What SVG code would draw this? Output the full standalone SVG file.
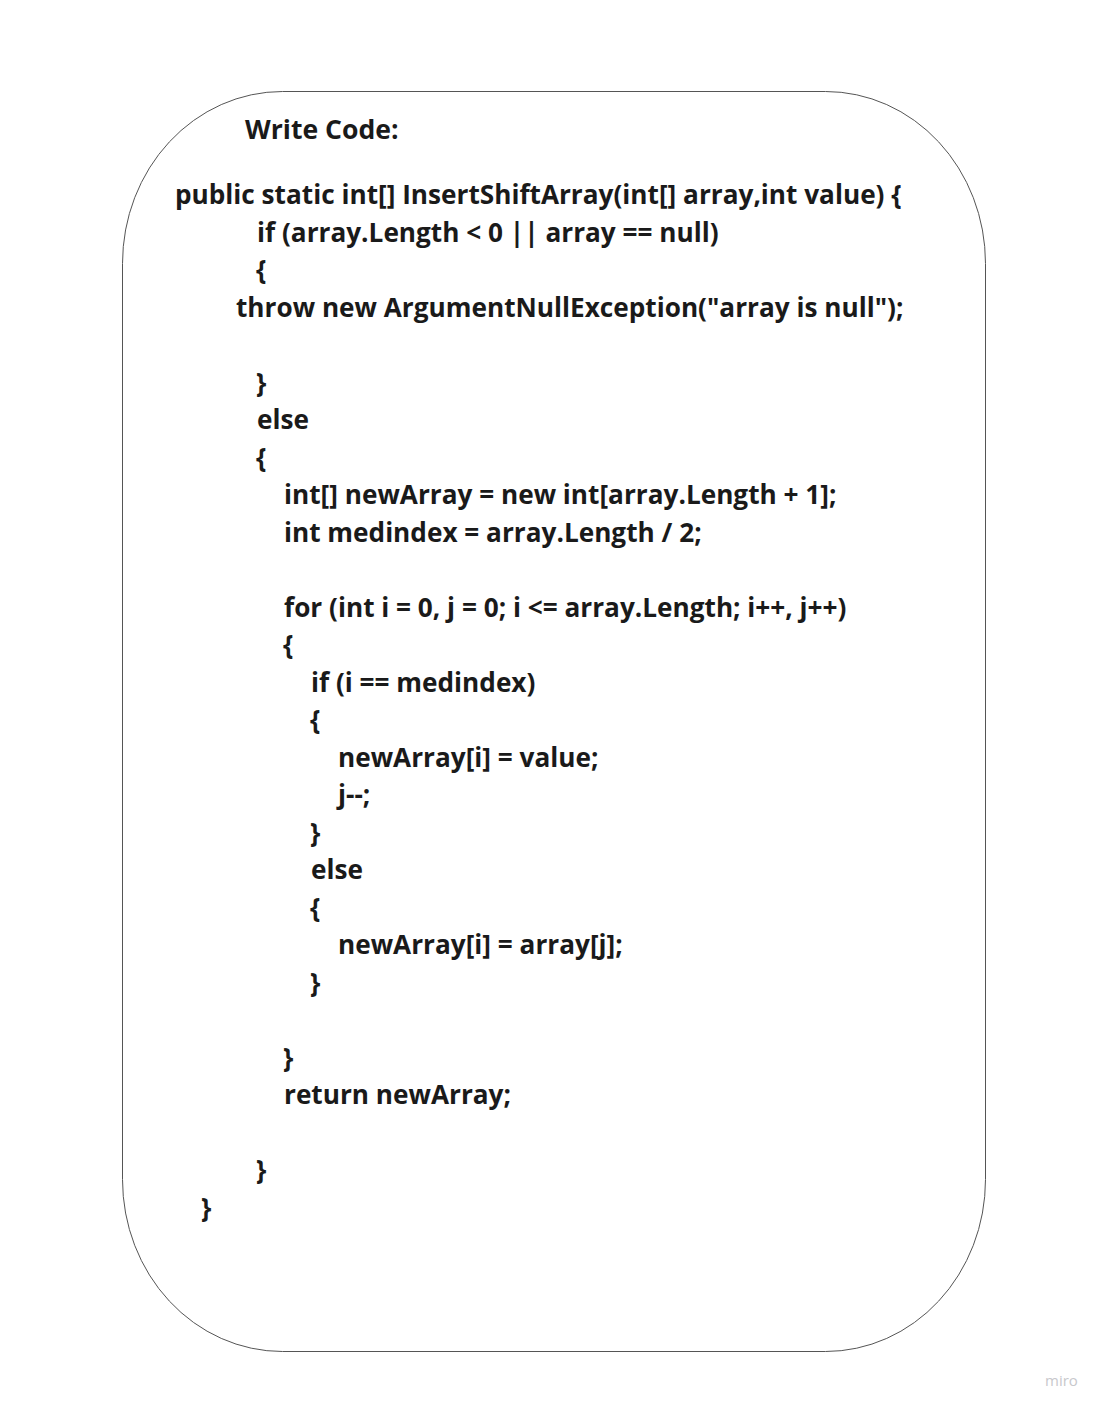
<svg xmlns="http://www.w3.org/2000/svg" width="1106" height="1412" viewBox="0 0 1106 1412">
<style>
.code{font-family:"Open Sans","Noto Sans","DejaVu Sans",sans-serif;font-weight:700;font-size:26.2px;fill:#1a1a1a;white-space:pre}
.title{font-size:26.6px}
.frame{fill:#ffffff;stroke:#555555;stroke-width:1}
.mark{font-family:"Open Sans","DejaVu Sans",sans-serif;font-size:15px;fill:#c8c8cc}
</style>
<rect width="1106" height="1412" fill="#ffffff"/>
<g id="code-card">
<rect class="frame" x="122.5" y="91.5" width="863" height="1260" rx="160" ry="172"/>
<text class="code title" x="245" y="139">Write Code:</text>
<text class="code" x="175" y="204">public static int[] InsertShiftArray(int[] array,int value) {</text>
<text class="code" x="257" y="241.5">if (array.Length &lt; 0 || array == null)</text>
<text class="code" x="256" y="279">{</text>
<text class="code" x="236" y="316.5">throw new ArgumentNullException("array is null");</text>
<text class="code" x="256" y="391.5">}</text>
<text class="code" x="257" y="429">else</text>
<text class="code" x="256" y="466.5">{</text>
<text class="code" x="284" y="504">int[] newArray = new int[array.Length + 1];</text>
<text class="code" x="284" y="541.5">int medindex = array.Length / 2;</text>
<text class="code" x="284" y="616.5">for (int i = 0, j = 0; i &lt;= array.Length; i++, j++)</text>
<text class="code" x="283" y="654">{</text>
<text class="code" x="311" y="691.5">if (i == medindex)</text>
<text class="code" x="310" y="729">{</text>
<text class="code" x="338" y="766.5">newArray[i] = value;</text>
<text class="code" x="338" y="804">j--;</text>
<text class="code" x="310" y="841.5">}</text>
<text class="code" x="311" y="879">else</text>
<text class="code" x="310" y="916.5">{</text>
<text class="code" x="338" y="954">newArray[i] = array[j];</text>
<text class="code" x="310" y="991.5">}</text>
<text class="code" x="283" y="1066.5">}</text>
<text class="code" x="284" y="1104">return newArray;</text>
<text class="code" x="256" y="1179">}</text>
<text class="code" x="201" y="1216.5">}</text>
</g>
<text class="mark" x="1045" y="1386">miro</text>
</svg>
